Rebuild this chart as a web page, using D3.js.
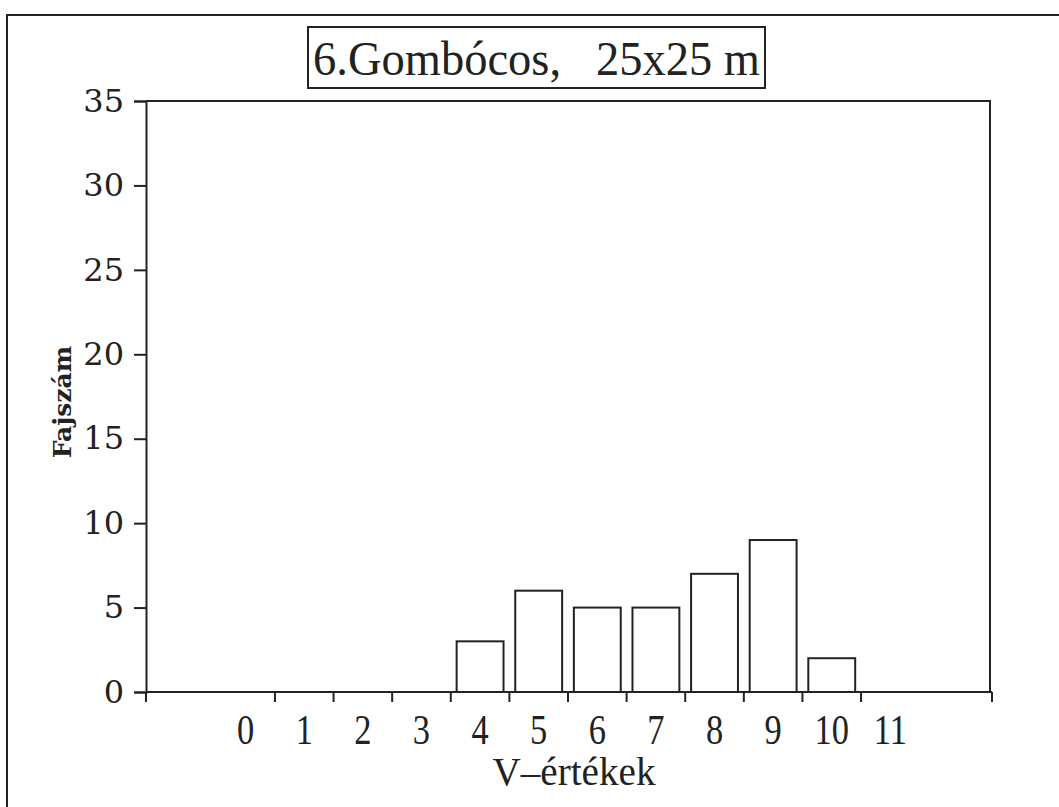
<!doctype html>
<head>
    <meta charset="UTF-8">
    <style>
        body { margin: 0; background: #fff; }
        svg text { fill: #222; }
    </style>
</head>
<body>
    <svg id="chart" width="1059" height="807"></svg>
    <script src="https://d3js.org/d3.v7.min.js"></script>
    <script>

        // Data
        var categories = [0, 1, 2, 3, 4, 5, 6, 7, 8, 9, 10, 11];
        var fajszam = [0, 0, 0, 0, 3, 6, 5, 5, 7, 9, 2, 0];
        var yTicks = [0, 5, 10, 15, 20, 25, 30, 35];
        var titleText = "6.Gombócos,   25x25 m";
        var xTitle = "V\u2013értékek";
        var yTitle = "Fajszám";

        var svg = d3.select("#chart");
        var plotLeft = 146, plotRight = 990, plotTop = 101, plotBottom = 692;
        var ink = "#222";
        var serif = "'DejaVu Serif', 'Liberation Serif', serif";

        // outer frame of the scanned page
        svg.append("path")
            .attr("d", "M7,807 L7,15 L1059,15")
            .attr("fill", "none").attr("stroke", ink).attr("stroke-width", 2);

        // title box
        svg.append("rect")
            .attr("x", 308).attr("y", 27).attr("width", 457).attr("height", 61)
            .attr("fill", "none").attr("stroke", ink).attr("stroke-width", 2);
        svg.append("text")
            .attr("x", 313).attr("y", 75)
            .attr("xml:space", "preserve")
            .attr("textLength", 447).attr("lengthAdjust", "spacingAndGlyphs")
            .style("font-family", "Liberation Serif").style("font-size", "48px")
            .text(titleText);

        // scales
        var x = d3.scaleBand()
            .domain(categories)
            .range([plotLeft, plotRight])
            .paddingInner(0)
            .paddingOuter(1.2);

        var y = d3.scaleLinear()
            .domain([0, 35])
            .range([plotBottom, plotTop]);

        // plot frame (top + right sides)
        svg.append("path")
            .attr("d", "M" + plotLeft + "," + y(35) + " L" + plotRight + "," + y(35) + " L" + plotRight + "," + y(0))
            .attr("fill", "none").attr("stroke", ink).attr("stroke-width", 2);

        // bars
        var inset = x.step() * 0.1;
        svg.append("g")
            .selectAll("rect")
            .data(categories.filter(function (c, i) { return fajszam[i] > 0; }))
            .enter().append("rect")
            .attr("x", function (c) { return x(c) + inset; })
            .attr("width", x.bandwidth() - 2 * inset)
            .attr("y", function (c) { return y(fajszam[categories.indexOf(c)]); })
            .attr("height", function (c) { return y(0) - y(fajszam[categories.indexOf(c)]); })
            .attr("fill", "#fff")
            .attr("stroke", ink)
            .attr("stroke-width", 2);

        // y axis
        var yAxis = svg.append("g")
            .attr("transform", "translate(" + plotLeft + ",0)")
            .call(d3.axisLeft(y).tickValues(yTicks).tickSize(12).tickPadding(10));
        yAxis.attr("font-family", null);
        yAxis.select(".domain").attr("stroke", ink).attr("stroke-width", 2);
        yAxis.selectAll(".tick line").attr("stroke", ink).attr("stroke-width", 2);
        yAxis.selectAll(".tick text")
            .style("font-family", serif).style("font-size", "32px")
            .attr("fill", ink);

        // x axis: baseline, boundary ticks, labels
        svg.append("line")
            .attr("x1", plotLeft).attr("x2", plotRight + 2)
            .attr("y1", y(0)).attr("y2", y(0))
            .attr("stroke", ink).attr("stroke-width", 2);

        var tickXs = [plotLeft, plotRight + 2].concat(categories.slice(1).map(function (c) { return x(c); }));
        svg.append("g")
            .selectAll("line")
            .data(tickXs)
            .enter().append("line")
            .attr("x1", function (d) { return d; }).attr("x2", function (d) { return d; })
            .attr("y1", y(0)).attr("y2", y(0) + 10)
            .attr("stroke", ink).attr("stroke-width", 2);

        var xAxis = svg.append("g")
            .attr("transform", "translate(0," + y(0) + ")")
            .call(d3.axisBottom(x).tickSize(0).tickPadding(22));
        xAxis.select(".domain").remove();
        xAxis.selectAll(".tick text")
            .style("font-family", "Liberation Serif").style("font-size", "42px")
            .attr("transform", "scale(0.82,1)")
            .attr("fill", ink);

        // axis titles
        svg.append("text")
            .attr("x", 574).attr("y", 785)
            .attr("text-anchor", "middle")
            .attr("textLength", 163).attr("lengthAdjust", "spacingAndGlyphs")
            .style("font-family", "Liberation Serif").style("font-size", "40px")
            .text(xTitle);

        svg.append("text")
            .attr("transform", "translate(71,402) rotate(-90)")
            .attr("text-anchor", "middle")
            .style("font-family", serif).style("font-size", "25px")
            .style("font-weight", "bold")
            .text(yTitle);

    </script>
</body>
